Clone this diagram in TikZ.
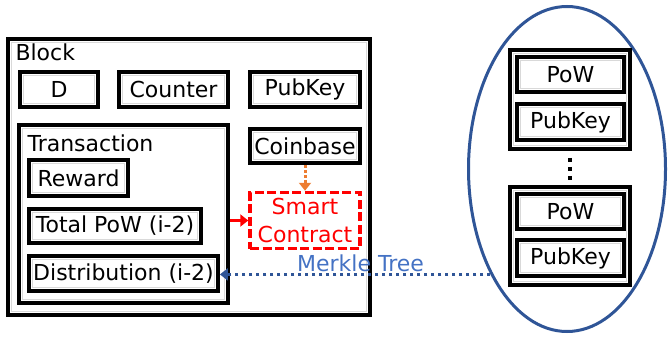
\documentclass[tikz,border=0pt]{standalone}
\usepackage{fontspec}
\setmainfont{DejaVu Sans}
\usetikzlibrary{shapes.geometric, arrows.meta, positioning, calc}
\definecolor{treeblue}{RGB}{47,85,151}
\definecolor{labelblue}{RGB}{68,114,196}
\definecolor{coinorange}{RGB}{237,125,49}
\newcommand{\boxfont}{\fontsize{22}{28}\selectfont}
\tikzstyle{field} = [rectangle, draw=black, line width=3.8pt, inner sep=0pt, text centered, font=\boxfont, path picture={\draw[black!15, line width=0.4pt] ([shift={(3.6pt,3.6pt)}]path picture bounding box.south west) rectangle ([shift={(-3.6pt,-3.6pt)}]path picture bounding box.north east);}]
\tikzstyle{contract} = [rectangle, draw=red, line width=3.5pt, dash pattern=on 9pt off 3.5pt, text=red, align=center, font=\boxfont, inner sep=0pt]
\tikzstyle{arrow} = [line width=3pt, -{Triangle[length=8pt,width=12pt]}]

\begin{document}
\begin{tikzpicture}[x=1pt, y=-1pt]
    \useasboundingbox (0,0) rectangle (668,339);
    % Block
    \node[field, minimum width=362pt, minimum height=276pt] (block) at (189,177) {};
    \node[font=\boxfont, anchor=base west] (blocklabel) at (12,61) {Block};
    \node[field, minimum width=78pt, minimum height=35pt] (d) at (59,89.5) {D};
    \node[field, minimum width=109pt, minimum height=35pt] (counter) at (173.5,89.5) {Counter};
    \node[field, minimum width=110pt, minimum height=35pt] (pubkey) at (305,89.5) {PubKey};
    \node[field, minimum width=110pt, minimum height=34pt] (coinbase) at (305,146) {Coinbase};
    \node[contract, minimum width=110pt, minimum height=56pt] (smart) at (305,220.5) {Smart\\Contract};

    % Transaction
    \node[field, minimum width=209pt, minimum height=178pt] (trans) at (123.5,214) {};
    \node[font=\boxfont, anchor=base west] (translabel) at (24,152) {Transaction};
    \node[field, minimum width=99pt, minimum height=36pt] (reward) at (78.5,178) {Reward};
    \node[field, minimum width=172pt, minimum height=34pt] (total) at (115,226) {Total PoW (i-2)};
    \node[field, minimum width=189pt, minimum height=35pt] (dist) at (123.5,273.5) {Distribution (i-2)};

    % Merkle tree
    \node[ellipse, draw=treeblue, line width=3pt, minimum width=197pt, minimum height=325pt] (tree) at (567,169) {};
    \node[field, minimum width=120pt, minimum height=99pt] (group1) at (570,99.5) {};
    \node[field, minimum width=107pt, minimum height=35pt] (pow1) at (570.5,74.5) {PoW};
    \node[field, minimum width=107pt, minimum height=36pt] (key1) at (570.5,122) {PubKey};
    \node[field, minimum width=120pt, minimum height=98pt] (group2) at (570,236) {};
    \node[field, minimum width=107pt, minimum height=35pt] (pow2) at (570.5,211.5) {PoW};
    \node[field, minimum width=107pt, minimum height=36pt] (key2) at (570.5,258) {PubKey};
    \draw[line width=3.5pt, dash pattern=on 4pt off 5pt] ([yshift=-7pt]group1.south) -- ([yshift=4pt]group2.north);

    % Arrows
    \draw[arrow, coinorange, dash pattern=on 3pt off 2pt] (coinbase.south) -- (smart.north);
    \draw[arrow, red] (trans.east |- smart.west) -- (smart.west);
    \draw[arrow, treeblue, line width=3.5pt, dash pattern=on 3.5pt off 3.5pt] (tree.234) -- node[pos=0.48, above, inner sep=1pt, font=\boxfont, text=labelblue] {Merkle Tree} (tree.234 -| dist.east);
\end{tikzpicture}
\end{document}
